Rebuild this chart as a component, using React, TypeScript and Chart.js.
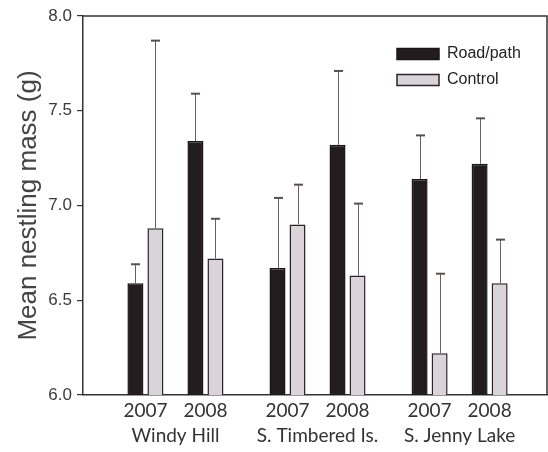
import { useEffect, useRef } from "react";
import { Chart, registerables } from "chart.js";

Chart.register(...registerables);

const sites = ["Windy Hill", "S. Timbered Is.", "S. Jenny Lake"];
const years = ["2007", "2008"];
const roadMeans = [6.59, 7.34, 6.67, 7.32, 7.14, 7.22];
const roadErrors = [0.1, 0.25, 0.37, 0.39, 0.23, 0.24];
const controlMeans = [6.88, 6.72, 6.9, 6.63, 6.22, 6.59];
const controlErrors = [0.99, 0.21, 0.21, 0.38, 0.42, 0.23];
const yTicks = [6.0, 6.5, 7.0, 7.5, 8.0];

const SITE_STEP = 2.367;
const X_MIN = -1.04;
const X_MAX = 6.69;

const groupX = (i: number) => Math.floor(i / 2) * SITE_STEP + (i % 2);
const groupPositions = roadMeans.map((_, i) => groupX(i));
const sitePositions = sites.map((_, s) => s * SITE_STEP + 0.5);

const ROAD_FILL = "#221c1e";
const ROAD_BORDER = "#1a1517";
const CONTROL_FILL = "#dad3da";
const CONTROL_BORDER = "#2a2426";
const AXIS_COLOR = "#333333";

const errorBarsPlugin = {
  id: "errorBars",
  afterDatasetsDraw(chart: any) {
    const ctx = chart.ctx;
    const yScale = chart.scales.y;
    const sets = [
      { means: roadMeans, errs: roadErrors },
      { means: controlMeans, errs: controlErrors },
    ];
    ctx.save();
    sets.forEach((s, d) => {
      const meta = chart.getDatasetMeta(d);
      meta.data.forEach((el: any, i: number) => {
        const x = Math.round(el.x) + 0.5;
        const yTop = el.y;
        const yErr = yScale.getPixelForValue(s.means[i] + s.errs[i]);
        ctx.strokeStyle = "#6a5e5f";
        ctx.lineWidth = 1;
        ctx.beginPath();
        ctx.moveTo(x, yTop);
        ctx.lineTo(x, yErr);
        ctx.stroke();
        ctx.strokeStyle = "#5a4f50";
        ctx.lineWidth = 2;
        ctx.beginPath();
        ctx.moveTo(x - 4.5, yErr);
        ctx.lineTo(x + 4.5, yErr);
        ctx.stroke();
      });
    });
    ctx.restore();
  },
};

const framePlugin = {
  id: "frame",
  afterDraw(chart: any) {
    const { ctx, chartArea } = chart;
    ctx.save();
    ctx.strokeStyle = AXIS_COLOR;
    ctx.lineWidth = 1.5;
    ctx.beginPath();
    ctx.moveTo(chartArea.left, chartArea.top);
    ctx.lineTo(chartArea.right, chartArea.top);
    ctx.lineTo(chartArea.right, chartArea.bottom);
    ctx.stroke();
    ctx.restore();
  },
};

const legendPlacePlugin = {
  id: "legendPlace",
  afterUpdate(chart: any) {
    const lg = chart.legend;
    if (!lg) return;
    const w = lg.width;
    const h = lg.height;
    const left = 387;
    const top = 36;
    lg.left = left;
    lg.top = top;
    lg.right = left + w + 20;
    lg.bottom = top + h + 10;
    if (lg.adjustHitBoxes) lg.adjustHitBoxes();
  },
};

export default function App() {
  const ref = useRef<HTMLCanvasElement | null>(null);

  useEffect(() => {
    document.body.style.margin = "0";
    if (!ref.current) return;
    const chart = new Chart(ref.current, {
      type: "bar",
      data: {
        datasets: [
          {
            label: "Road/path",
            data: roadMeans.map((v, i) => ({ x: groupPositions[i], y: v })),
            backgroundColor: ROAD_FILL,
            borderColor: ROAD_BORDER,
            borderWidth: 1.5,
            categoryPercentage: 0.6667,
            barPercentage: 0.8,
          },
          {
            label: "Control",
            data: controlMeans.map((v, i) => ({ x: groupPositions[i], y: v })),
            backgroundColor: CONTROL_FILL,
            borderColor: CONTROL_BORDER,
            borderWidth: 1.5,
            categoryPercentage: 0.6667,
            barPercentage: 0.8,
          },
        ],
      } as any,
      options: {
        animation: false,
        responsive: false,
        maintainAspectRatio: false,
        layout: { padding: { top: 16, right: 1, bottom: 0, left: 0 } },
        plugins: {
          tooltip: { enabled: false },
          legend: {
            position: "chartArea",
            align: "start",
            labels: {
              boxWidth: 42,
              boxHeight: 11,
              padding: 10,
              color: "#222222",
              font: { family: "'Liberation Sans', Arial, sans-serif", size: 16 },
            },
          },
        },
        scales: {
          x: {
            type: "linear",
            position: "bottom",
            offset: false,
            min: X_MIN,
            max: X_MAX,
            grid: { display: false, drawTicks: false, offset: false },
            border: { display: true, color: AXIS_COLOR, width: 1.5 },
            afterBuildTicks: (scale: any) => {
              scale.ticks = groupPositions.map((v) => ({ value: v }));
            },
            afterFit: (scale: any) => {
              scale.height = 29;
            },
            ticks: {
              autoSkip: false,
              maxRotation: 0,
              padding: 4,
              color: "#333333",
              font: { family: "Lato, 'Open Sans', sans-serif", size: 19 },
              callback: (_v: any, index: number) => years[index % 2],
            },
          },
          x2: {
            type: "linear",
            position: "bottom",
            offset: false,
            min: X_MIN,
            max: X_MAX,
            grid: { display: false, drawTicks: false, offset: false },
            border: { display: false },
            afterBuildTicks: (scale: any) => {
              scale.ticks = sitePositions.map((v) => ({ value: v }));
            },
            afterFit: (scale: any) => {
              scale.height = 28;
            },
            ticks: {
              autoSkip: false,
              maxRotation: 0,
              padding: 0,
              color: "#333333",
              font: { family: "Lato, 'Open Sans', sans-serif", size: 19 },
              callback: (_v: any, index: number) => sites[index],
            },
          },
          y: {
            type: "linear",
            min: 6,
            max: 8,
            afterBuildTicks: (scale: any) => {
              scale.ticks = yTicks.map((v) => ({ value: v }));
            },
            afterFit: (scale: any) => {
              scale.width = 83;
            },
            grid: {
              display: true,
              drawOnChartArea: false,
              drawTicks: true,
              tickLength: 6,
              color: AXIS_COLOR,
              lineWidth: 1.2,
            },
            border: { display: true, color: AXIS_COLOR, width: 1.5 },
            ticks: {
              padding: 5,
              color: "#3a3a3a",
              font: { family: "'Liberation Sans', Arial, sans-serif", size: 17 },
              callback: (v: any) => Number(v).toFixed(1),
            },
            title: {
              display: true,
              text: "Mean nestling mass (g)",
              color: "#444444",
              padding: { top: 13, bottom: 0 },
              font: { family: "'Liberation Sans', Arial, sans-serif", size: 26 },
            },
          },
        },
      },
      plugins: [errorBarsPlugin, framePlugin, legendPlacePlugin],
    } as any);
    return () => chart.destroy();
  }, []);

  return (
    <div style={{ width: 548, height: 452 }}>
      <canvas ref={ref} width={548} height={452} />
    </div>
  );
}
